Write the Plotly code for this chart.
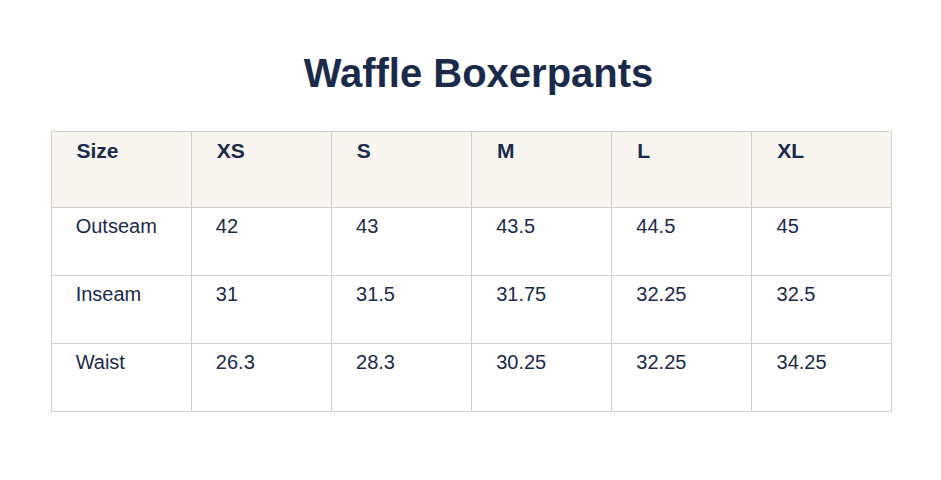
import plotly.graph_objects as go

sizes = ["XS", "S", "M", "L", "XL"]
row_labels = ["Outseam", "Inseam", "Waist"]
outseam = ["42", "43", "43.5", "44.5", "45"]
inseam = ["31", "31.5", "31.75", "32.25", "32.5"]
waist = ["26.3", "28.3", "30.25", "32.25", "34.25"]

pad = "<br>   "
header = [pad + "<b>Size</b>"] + [pad + "<b>%s</b>" % s for s in sizes]
rows = [outseam, inseam, waist]
columns = [[pad + r for r in row_labels]]
for i in range(len(sizes)):
    columns.append([pad + row[i] for row in rows])

navy = "#1b2a4a"
fig = go.Figure(go.Table(
    domain=dict(x=[43 / 941, 884 / 941], y=[0.05, 1 - 123 / 480]),
    header=dict(values=header, fill_color="#f8f5f0", line_color="#d0d0d0",
                align="left", height=76,
                font=dict(family="Liberation Sans", size=21, color=navy)),
    cells=dict(values=columns, fill_color="white", line_color="#d0d0d0",
               align="left", height=68,
               font=dict(family="Liberation Sans", size=20, color=navy)),
))
fig.update_layout(
    width=941, height=480, margin=dict(l=0, r=0, t=0, b=0),
    paper_bgcolor="white",
    title=dict(text="<b>Waffle Boxerpants</b>", x=0.5, xanchor="center",
               y=1 - 65 / 480, yanchor="middle",
               font=dict(family="Liberation Sans", size=40, color=navy)),
)
fig.write_html("out.html")
